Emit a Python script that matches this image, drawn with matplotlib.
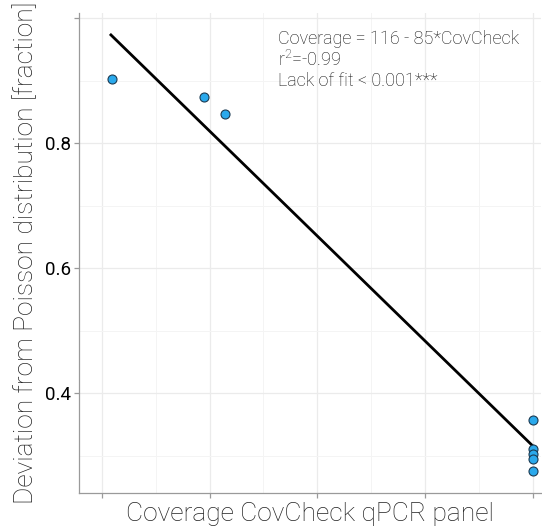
import numpy as np
import matplotlib
matplotlib.use("Agg")
import matplotlib.pyplot as plt
from matplotlib.ticker import MultipleLocator

plt.rcParams['font.family'] = ['Roboto', 'DejaVu Sans']
plt.rcParams['mathtext.default'] = 'regular'

# datos
cobertura = [21.9, 39.0, 42.9, 100.0, 100.0, 100.0, 100.0, 100.0]
desviacion = [0.903, 0.874, 0.847, 0.357, 0.310, 0.302, 0.294, 0.276]

# recta de ajuste (extremos)
ajuste_x = [21.7, 100.0]
ajuste_y = [0.973, 0.315]

y_ticks = [0.4, 0.6, 0.8, 1.0]
y_labels = ["0.4", "0.6", "0.8", ""]
x_ticks = [20, 40, 60, 80, 100]

fig = plt.figure(figsize=(5.42, 5.26), dpi=100)
ax = fig.add_axes([0.1458, 0.0627, 0.853, 0.9125])

ax.plot(ajuste_x, ajuste_y, color='black', lw=2.0, zorder=3)
ax.scatter(cobertura, desviacion, s=42, color='#2aa9ec', edgecolor='#1b3a52',
           linewidth=0.8, zorder=4)

ax.set_xlim(15.78, 101.55)
ax.set_ylim(0.24, 1.008)
ax.set_xticks(x_ticks)
ax.set_xticklabels([])
ax.set_yticks(y_ticks)
ax.set_yticklabels(y_labels)
ax.xaxis.set_minor_locator(MultipleLocator(10))
ax.yaxis.set_minor_locator(MultipleLocator(0.1))

ax.grid(which='major', color='#ebebeb', lw=0.9)
ax.grid(which='minor', color='#f4f4f4', lw=0.7)
ax.set_axisbelow(True)

for lado in ['top', 'right']:
    ax.spines[lado].set_visible(False)
for lado in ['left', 'bottom']:
    ax.spines[lado].set_color('#9a9a9a')
    ax.spines[lado].set_linewidth(0.9)

ax.tick_params(which='major', length=3.5, color='#9a9a9a', width=0.9,
               labelsize=13.5, labelcolor='black', pad=2)
ax.tick_params(which='minor', length=0)

ax.set_xlabel("Coverage CovCheck qPCR panel", fontsize=19, fontweight='light',
              color='#222222', labelpad=1)
ax.set_ylabel("Deviation from Poisson distribution [fraction]", fontsize=19,
              fontweight='light', color='#222222', labelpad=5)

ax.text(0.431, 0.965, "Coverage = 116 - 85*CovCheck\nr$^2$=-0.99\nLack of fit < 0.001***",
        transform=ax.transAxes, fontsize=13, fontweight='light', color='#111111',
        va='top', ha='left', linespacing=1.15)

fig.savefig("out.png", dpi=100)
